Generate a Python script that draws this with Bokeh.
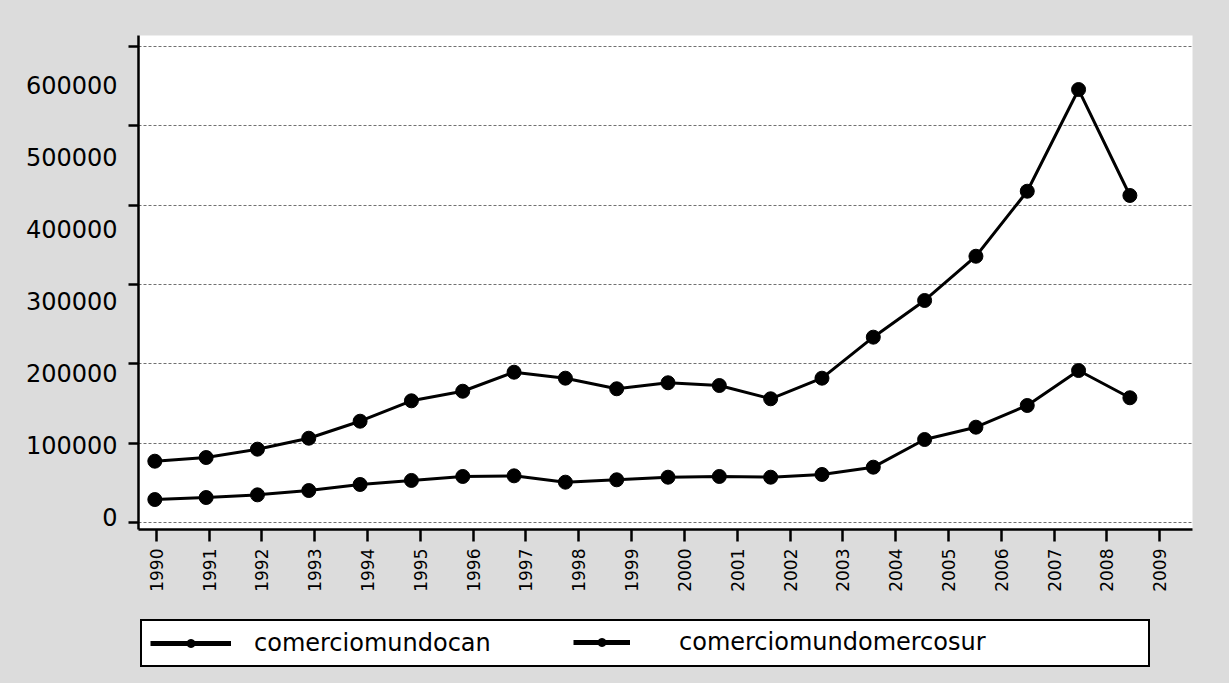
import math
from bokeh.plotting import figure
from bokeh.layouts import column
from bokeh.models import (Range1d, LinearAxis, Grid, SingleIntervalTicker, FixedTicker,
                          BasicTickFormatter, Legend, LegendItem)
from bokeh.embed import file_html
from bokeh.resources import INLINE

# ---- data ----
years = list(range(1990, 2010))
comerciomundocan = [24500, 27300, 31000, 37000, 45400, 51000, 56500, 57400, 48600, 51900,
                    55500, 56500, 55500, 59300, 69400, 107800, 124900, 155000, 203500, 165700]
comerciomundomercosur = [77700, 82800, 94400, 109600, 133200, 161500, 174800, 201200, 192900, 178200,
                         186500, 182700, 164300, 192900, 249800, 300700, 362100, 452300, 593400, 446400]
tick_years = list(range(1990, 2010))
y_ticks = [0, 100000, 200000, 300000, 400000, 500000, 600000]
series_labels = ["comerciomundocan", "comerciomundomercosur"]

FONT = "DejaVu Sans"
BG = "#dcdcdc"

p = figure(width=1229, height=600, output_backend="svg", toolbar_location=None,
           x_range=Range1d(1989.682, 2010.22), y_range=Range1d(-17070, 668380),
           x_axis_location=None, y_axis_location=None,
           min_border_left=138, min_border_right=37, min_border_top=35, min_border_bottom=71,
           background_fill_color="white", border_fill_color=BG, outline_line_color=None)
p.center = [r for r in p.center if not isinstance(r, Grid)]

p.extra_x_ranges = {"xaxis": Range1d(1989.665, 2009.62)}
p.extra_y_ranges = {"grid": Range1d(-8564, 613600)}

# gridlines + tick marks (inner axis)
grid = Grid(dimension=1, ticker=SingleIntervalTicker(interval=100000), y_range_name="grid",
            grid_line_color="#707070", grid_line_dash="3 2", grid_line_width=1)
p.add_layout(grid)

yt = LinearAxis(y_range_name="grid", ticker=SingleIntervalTicker(interval=100000),
                axis_line_color="black", axis_line_width=2.5,
                major_tick_out=10, major_tick_in=0, major_tick_line_width=2.5,
                minor_tick_line_color=None, minor_tick_out=0, minor_tick_in=0,
                major_label_text_color=None, major_label_text_font_size="1px",
                major_label_standoff=0)
p.add_layout(yt, "left")

yl = LinearAxis(ticker=FixedTicker(ticks=y_ticks), formatter=BasicTickFormatter(use_scientific=False),
                axis_line_color=None, major_tick_line_color=None, major_tick_out=0, major_tick_in=0,
                minor_tick_line_color=None, minor_tick_out=0, minor_tick_in=0,
                major_label_text_font=FONT, major_label_text_font_size="24px",
                major_label_text_color="black", major_label_standoff=11)
p.add_layout(yl, "left")

xa = LinearAxis(x_range_name="xaxis", ticker=FixedTicker(ticks=tick_years),
                axis_line_color="black", axis_line_width=2.5,
                major_tick_out=12, major_tick_in=0, major_tick_line_width=2.5,
                minor_tick_line_color=None, minor_tick_out=0, minor_tick_in=0,
                major_label_orientation=math.pi / 2, major_label_text_font=FONT,
                major_label_text_font_size="17px", major_label_text_color="black",
                major_label_standoff=7)
p.add_layout(xa, "below")

p.line(years, comerciomundocan, line_color="black", line_width=3)
p.scatter(years, comerciomundocan, size=14, color="black")
p.line(years, comerciomundomercosur, line_color="black", line_width=3)
p.scatter(years, comerciomundomercosur, size=14, color="black")

# ---- legend strip below the chart ----
p2 = figure(width=1229, height=83, output_backend="svg", toolbar_location=None,
            x_axis_location=None, y_axis_location=None, min_border=0,
            background_fill_color=None, border_fill_color=BG, outline_line_color=None)
p2.center = [r for r in p2.center if not isinstance(r, Grid)]
k1l = p2.line(years, comerciomundocan, line_color="black", line_width=5, visible=False)
k1s = p2.scatter(years, comerciomundocan, size=13, color="black", visible=False)
k2l = p2.line(years, comerciomundomercosur, line_color="black", line_width=5, visible=False)
k2s = p2.scatter(years, comerciomundomercosur, size=13, color="black", visible=False)

common = dict(orientation="horizontal", padding=8, margin=0, glyph_height=20,
              label_text_font=FONT, label_text_font_size="24px", label_text_color="black",
              inactive_fill_alpha=0.0, click_policy="none")

# boxed legend holding the first entry (its box spans the whole strip)
legend_a = Legend(items=[LegendItem(label=series_labels[0], renderers=[k1l, k1s])],
                  location=(2, 16), glyph_width=81, label_standoff=23, label_width=886,
                  border_line_color="black", border_line_width=2, border_line_alpha=1.0,
                  background_fill_color="white", background_fill_alpha=1.0, **common)
p2.add_layout(legend_a)

# second entry, drawn inside the same box
legend_b = Legend(items=[LegendItem(label=series_labels[1], renderers=[k2l, k2s])],
                  location=(435, 27), glyph_width=57, label_standoff=49,
                  border_line_color=None, background_fill_alpha=0.0, **common)
p2.add_layout(legend_b)

layout = column(p, p2, spacing=0, styles={"background-color": BG})
open("out.html", "w").write(file_html(layout, INLINE))
